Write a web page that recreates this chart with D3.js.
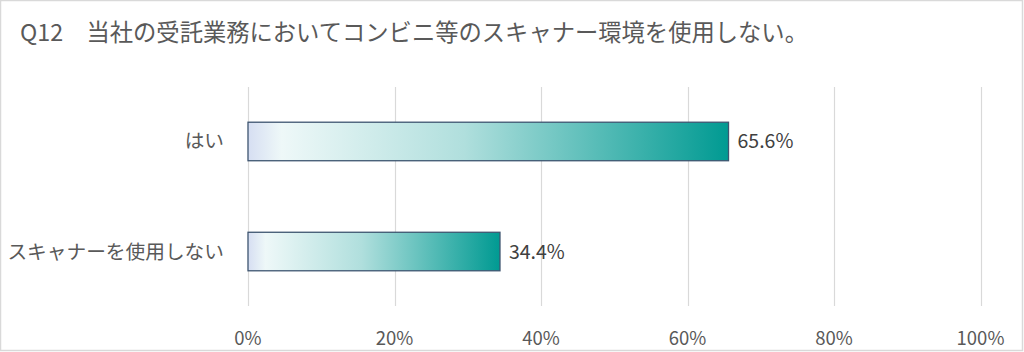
<!DOCTYPE html>
<html>
<head>
<meta charset="utf-8">
<script src="https://cdn.jsdelivr.net/npm/d3@7"></script>
<style>
  body { margin: 0; background: #fff; }
  svg { display: block; font-family: "Noto Sans CJK JP", "Noto Sans", sans-serif; }
</style>
</head>
<body>
<div id="chart-area"></div>
<script>
// data
var categories = ["はい", "スキャナーを使用しない"];
var values = [65.6, 34.4];
var tickValues = [0, 20, 40, 60, 80, 100];
var title = "Q12　当社の受託業務においてコンビニ等のスキャナー環境を使用しない。";

var W = 1024, H = 352;
var margin = { left: 248, right: 43, top: 87, bottom: 46 };
var width = W - margin.left - margin.right,
    height = H - margin.top - margin.bottom;

var svg = d3.select("#chart-area")
  .append("svg")
    .attr("width", W)
    .attr("height", H);

// frame
svg.append("rect")
  .attr("x", 0.5).attr("y", 0.5)
  .attr("width", W - 2).attr("height", H - 2)
  .attr("fill", "#fff")
  .attr("stroke", "#d9d9d9")
  .attr("stroke-width", 1.5);

svg.append("text")
  .attr("x", 20)
  .attr("y", 41)
  .attr("font-size", "23.3px")
  .attr("fill", "#595959")
  .text(title);

// gradient
var defs = svg.append("defs");
var grad = defs.append("linearGradient")
  .attr("id", "barGrad")
  .attr("x1", "0%").attr("x2", "100%")
  .attr("y1", "0%").attr("y2", "0%");
grad.append("stop").attr("offset", "0%").attr("stop-color", "#d6def2");
grad.append("stop").attr("offset", "7%").attr("stop-color", "#eef8f8");
grad.append("stop").attr("offset", "45%").attr("stop-color", "#b0dfdd");
grad.append("stop").attr("offset", "100%").attr("stop-color", "#009a92");

var g = svg.append("g")
  .attr("transform", "translate(" + margin.left + ", " + margin.top + ")");

var x = d3.scaleLinear()
  .domain([0, 100])
  .range([0, width - 0.5]);

var y = d3.scaleBand()
  .domain(categories)
  .range([0, height])
  .paddingInner(0.65)
  .paddingOuter(0.32);

// gridlines
g.selectAll(".grid")
  .data(tickValues)
  .enter().append("line")
    .attr("class", "grid")
    .attr("x1", function(d) { return Math.round(x(d)) + 0.5; })
    .attr("x2", function(d) { return Math.round(x(d)) + 0.5; })
    .attr("y1", 0)
    .attr("y2", height)
    .attr("stroke", "#d9d9d9")
    .attr("stroke-width", 1.2);

// x tick labels
g.selectAll(".tick-label")
  .data(tickValues)
  .enter().append("text")
    .attr("class", "tick-label")
    .attr("x", function(d) { return x(d); })
    .attr("y", height + 39)
    .attr("text-anchor", "middle")
    .attr("font-size", "18.5px")
    .attr("fill", "#595959")
    .text(function(d) { return d + "%"; });

// bars
g.selectAll(".bar")
  .data(values)
  .enter().append("rect")
    .attr("class", "bar")
    .attr("x", x(0))
    .attr("y", function(d, i) { return y(categories[i]); })
    .attr("width", function(d) { return x(d) - x(0); })
    .attr("height", y.bandwidth())
    .attr("fill", "url(#barGrad)")
    .attr("stroke", "#3e5570")
    .attr("stroke-width", 1.3);

// value labels
g.selectAll(".val")
  .data(values)
  .enter().append("text")
    .attr("class", "val")
    .attr("x", function(d) { return x(d) + 9; })
    .attr("y", function(d, i) { return y(categories[i]) + y.bandwidth() / 2 + 7; })
    .attr("font-size", "19.5px")
    .attr("fill", "#404040")
    .text(function(d) { return d.toFixed(1) + "%"; });

// category labels
g.selectAll(".cat")
  .data(categories)
  .enter().append("text")
    .attr("class", "cat")
    .attr("x", -24)
    .attr("y", function(d) { return y(d) + y.bandwidth() / 2 + 7; })
    .attr("text-anchor", "end")
    .attr("font-size", "19.7px")
    .attr("fill", "#595959")
    .text(function(d) { return d; });
</script>
</body>
</html>
